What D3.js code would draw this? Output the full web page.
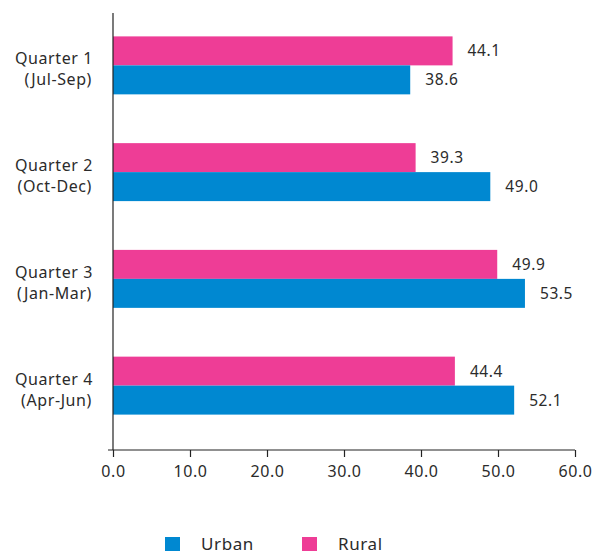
<!DOCTYPE html>
<html>
<head>
<meta charset="utf-8">
<script src="https://cdn.jsdelivr.net/npm/d3@7"></script>
<style>
  html, body { margin: 0; padding: 0; background: #fff; }
  svg { display: block; font-family: "Noto Sans", "Open Sans", sans-serif; letter-spacing: 0.6px; }
</style>
</head>
<body>
<svg id="chart" width="592" height="554"></svg>
<script>
// Quarterly values for each area type
const quarters = ["Quarter 1", "Quarter 2", "Quarter 3", "Quarter 4"];
const months = ["(Jul-Sep)", "(Oct-Dec)", "(Jan-Mar)", "(Apr-Jun)"];
const series = ["Rural", "Urban"];
const ruralValues = [44.1, 39.3, 49.9, 44.4];
const urbanValues = [38.6, 49.0, 53.5, 52.1];
const xTicks = [0, 10, 20, 30, 40, 50, 60];
const legendOrder = ["Urban", "Rural"];

const colors = { Urban: "#0088D1", Rural: "#EE3D96" };
const textColor = "#2b2b2b";

const svg = d3.select("#chart");

const x = d3.scaleLinear().domain([0, 60]).range([113, 575]);
const y = d3.scaleBand().domain(quarters).range([12, 439])
  .paddingInner(0.457).paddingOuter(0.2285);
const ySub = d3.scaleBand().domain(series).range([0, y.bandwidth()]);

const valuesBySeries = { Rural: ruralValues, Urban: urbanValues };
const rows = [];
quarters.forEach((q, i) => {
  series.forEach(s => rows.push({ q, s, v: valuesBySeries[s][i] }));
});

// Bars
svg.append("g").selectAll("rect").data(rows).join("rect")
  .attr("x", x(0))
  .attr("y", d => y(d.q) + ySub(d.s))
  .attr("width", d => x(d.v) - x(0))
  .attr("height", ySub.bandwidth())
  .attr("fill", d => colors[d.s]);

// Value labels
svg.append("g").selectAll("text").data(rows).join("text")
  .attr("x", d => x(d.v) + 15)
  .attr("y", d => y(d.q) + ySub(d.s) + ySub.bandwidth() / 2)
  .attr("dy", "0.36em")
  .attr("font-size", 15.5)
  .attr("fill", textColor)
  .text(d => d.v.toFixed(1));

// Vertical axis line
const plotBottom = 450;
svg.append("line")
  .attr("x1", x(0)).attr("x2", x(0))
  .attr("y1", 13).attr("y2", plotBottom)
  .attr("stroke", "#222").attr("stroke-width", 1.2);

// Category labels (two lines)
const cat = svg.append("g").selectAll("text").data(quarters).join("text")
  .attr("text-anchor", "end")
  .attr("font-size", 16)
  .attr("fill", textColor);
cat.append("tspan")
  .attr("x", 93)
  .attr("y", d => y(d) + y.bandwidth() / 2 - 1)
  .text(d => d);
cat.append("tspan")
  .attr("x", 92)
  .attr("y", (d, i) => y(d) + y.bandwidth() / 2 + 20)
  .text((d, i) => months[i]);

// Horizontal axis
const xAxis = d3.axisBottom(x)
  .tickValues(xTicks)
  .tickFormat(d3.format(".1f"))
  .tickSize(7)
  .tickPadding(9);
const gx = svg.append("g")
  .attr("transform", `translate(0,${plotBottom})`)
  .call(xAxis);
gx.select(".domain").remove();
gx.append("line")
  .attr("x1", x(0) - 5).attr("x2", x(60))
  .attr("stroke", "#222").attr("stroke-width", 1.2);
gx.selectAll(".tick line").attr("stroke", "#222").attr("stroke-width", 1.2);
gx.selectAll(".tick text")
  .attr("font-size", 16)
  .attr("font-family", "\"Noto Sans\", \"Open Sans\", sans-serif")
  .attr("fill", textColor);

// Legend
const legendPos = { Urban: 165, Rural: 302 };
const lg = svg.append("g").selectAll("g").data(legendOrder).join("g")
  .attr("transform", d => `translate(${legendPos[d]},537)`);
lg.append("rect")
  .attr("width", 15).attr("height", 14)
  .attr("fill", d => colors[d]);
lg.append("text")
  .attr("x", 36).attr("y", 13)
  .attr("font-size", 17)
  .attr("fill", textColor)
  .text(d => d);
</script>
</body>
</html>
